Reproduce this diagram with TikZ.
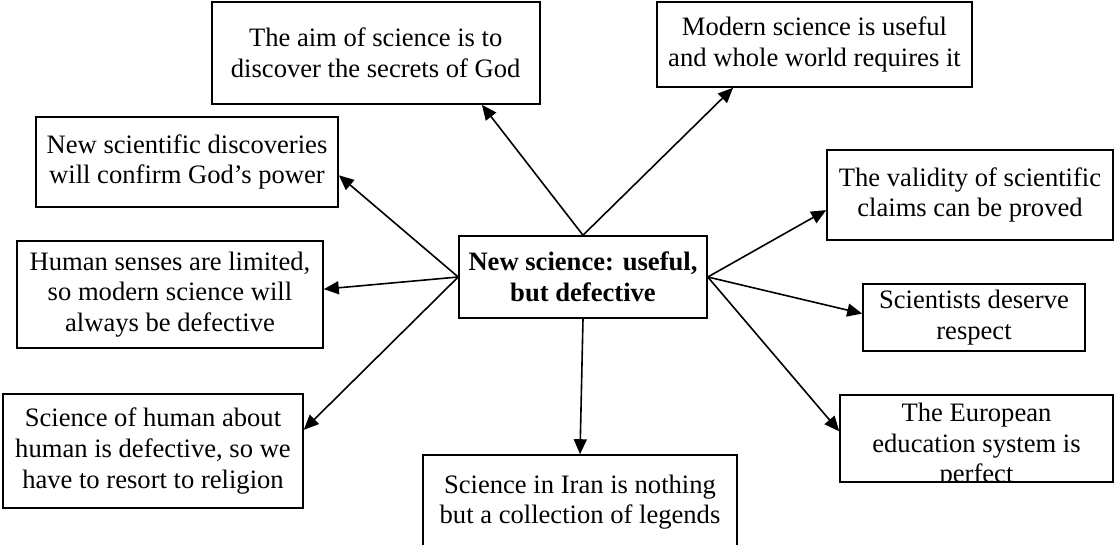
\documentclass[tikz,border=0pt]{standalone}
\usepackage{fontspec}
\setmainfont{Liberation Serif}
\usetikzlibrary{arrows.meta}

\tikzset{
  box/.style={draw,line width=0.8pt,fill=white,align=center,inner sep=2pt,
    font=\fontsize{13.3}{15.3}\selectfont},
  ctrbox/.style={box,font=\bfseries\fontsize{13.3}{15.3}\selectfont},
}

\begin{document}
\begin{tikzpicture}[x=0.5pt,y=-0.5pt,line width=0.8pt,>={Triangle[length=7.5pt,width=6.5pt]}]
  \useasboundingbox (0,0) rectangle (1114,545);
  \clip (0,0) rectangle (1114,545);
  % centre
  \node[ctrbox,minimum width=124pt,minimum height=41pt] (ctr) at (583,277) {New science: useful,\\but defective};
  % upper row
  \node[box,minimum width=164pt,minimum height=51pt] (aim) at (375.7,53) {The aim of science is to\\discover the secrets of God};
  \node[box,minimum width=157.5pt,minimum height=42.5pt] (modern) at (814.5,44.5) {Modern science is useful\\and whole world requires it};
  % left side
  \node[box,minimum width=151pt,minimum height=45pt] (discov) at (187,162) {New scientific discoveries\\will confirm God's power};
  \node[box,minimum width=153pt,minimum height=53.5pt] (senses) at (170,294.5) {Human senses are limited,\\so modern science will\\always be defective};
  \node[box,minimum width=150pt,minimum height=57pt] (humsci) at (153,451) {Science of human about\\human is defective, so we\\have to resort to religion};
  % bottom
  \node[box,minimum width=157pt,minimum height=47pt] (iran) at (580,502) {Science in Iran is nothing\\but a collection of legends};
  % right side
  \node[box,minimum width=143pt,minimum height=45pt] (valid) at (970,195) {The validity of scientific\\claims can be proved};
  \node[box,minimum width=111pt,minimum height=33.5pt] (respect) at (974,317.5) {Scientists deserve\\respect};
  \node[box,minimum width=136.5pt,minimum height=43.5pt] (europe) at (976.5,438.5) {};
  \begin{scope}
    \clip (europe.south west) rectangle (europe.north east);
    \node[align=center,font=\fontsize{13.3}{15.3}\selectfont] (europetxt) at (976.5,446) {The European\\education system is\\perfect};
  \end{scope}
  % arrows
  \draw[->] (ctr.north) -- (aim.-26);
  \draw[->] (ctr.north) -- (modern.-152);
  \draw[->] (ctr.west) -- (discov.-5);
  \draw[->] (ctr.west) -- (senses.2);
  \draw[->] (ctr.west) -- (humsci.8);
  \draw[->] (ctr.south) -- (iran.north);
  \draw[->] (ctr.east) -- (valid.-174);
  \draw[->] (ctr.east) -- (respect.178);
  \draw[->] (ctr.east) -- (europe.177);
\end{tikzpicture}
\end{document}
